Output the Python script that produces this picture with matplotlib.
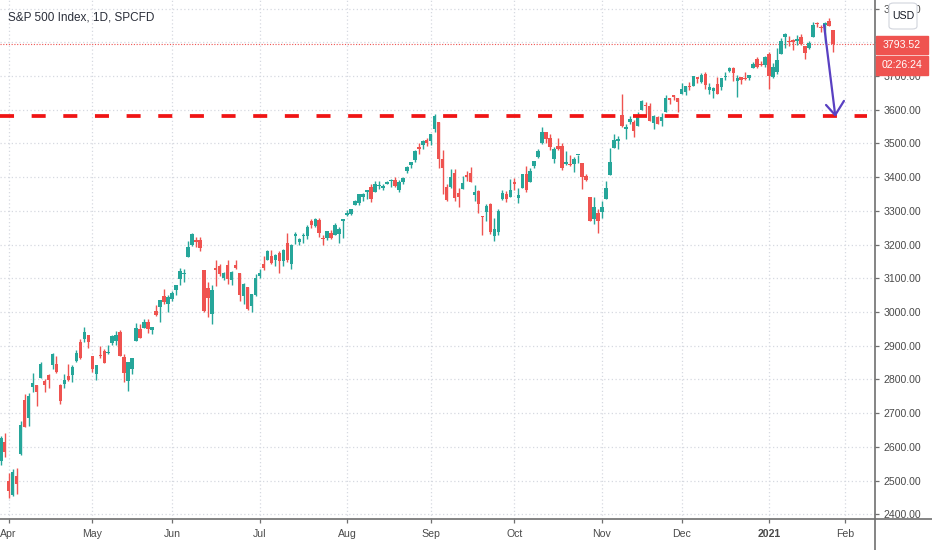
import matplotlib.pyplot as plt
import numpy as np
import pandas as pd
from matplotlib.lines import Line2D
from matplotlib.patches import Rectangle, FancyBboxPatch

plt.rcParams['font.family'] = ['Liberation Sans', 'DejaVu Sans']

GREEN = '#26a69a'
RED = '#ef5350'
AXIS = '#6f6f6f'
TEXT = '#4a4a4a'

# trading days shown (NYSE holidays removed)
holidays = ['2020-04-10', '2020-05-25', '2020-07-03', '2020-09-07',
            '2020-11-26', '2020-12-25', '2021-01-01', '2021-01-18']
days = pd.bdate_range('2020-03-30', '2021-01-27')
days = days[~days.isin(pd.to_datetime(holidays))]
future = pd.bdate_range('2021-01-28', '2021-02-05')

opens = [
    2558.98, 2614.69,
    2498.08, 2458.54, 2514.92, 2578.28, 2738.65, 2685.00, 2776.99, 2782.46, 2805.10, 2795.64, 2812.64,
    2842.43, 2845.62, 2784.81, 2787.89, 2810.42, 2812.64, 2854.65, 2909.96, 2918.46, 2930.91,
    2869.09, 2815.01, 2868.88, 2883.14, 2878.26, 2908.83, 2915.46, 2939.50, 2865.86, 2794.54, 2829.95,
    2913.86, 2948.59, 2953.63, 2969.95, 2948.05, 3004.08, 3015.65, 3046.61, 3025.17,
    3038.78, 3064.78, 3098.90, 3111.56, 3163.84, 3199.92, 3213.32, 3213.42, 3123.53, 3071.04, 2993.76,
    3131.00, 3136.13, 3101.64, 3140.29, 3094.42, 3138.70, 3114.40, 3046.60, 3073.20, 3018.59, 3050.20,
    3105.92, 3143.64, 3155.29, 3166.44, 3153.07, 3176.17, 3152.47, 3205.08, 3141.11, 3225.98, 3208.36,
    3224.21, 3224.29, 3268.52, 3254.86, 3271.64, 3218.58, 3219.84, 3234.27, 3227.22, 3231.76, 3270.45,
    3288.26, 3289.92, 3317.37, 3323.17, 3340.05, 3356.04, 3370.34, 3355.46, 3372.95, 3368.66, 3380.86,
    3387.04, 3392.51, 3360.48, 3386.01, 3418.09, 3435.95, 3449.97, 3485.14, 3494.69, 3509.73,
    3507.44, 3543.76, 3564.74, 3453.60, 3371.88, 3369.82, 3412.56, 3352.70, 3363.56, 3407.73, 3411.23,
    3346.86, 3357.38, 3285.57, 3295.75, 3320.11, 3226.14, 3236.66, 3333.90, 3350.92, 3341.21,
    3385.87, 3338.94, 3367.27, 3408.74, 3384.56, 3434.28, 3459.67, 3500.02, 3534.01, 3515.47, 3453.72,
    3493.50, 3493.66, 3439.38, 3439.91, 3438.50, 3464.90, 3441.42, 3403.15, 3342.48, 3277.17, 3293.59,
    3296.20, 3336.25, 3406.46, 3485.74, 3508.34, 3583.04, 3543.26, 3563.22, 3562.67, 3552.57, 3600.16,
    3610.31, 3612.09, 3559.41, 3579.31, 3566.82, 3594.52, 3635.50, 3638.55, 3634.18,
    3645.87, 3653.78, 3668.28, 3670.94, 3694.73, 3683.05, 3705.98, 3659.13, 3656.08, 3675.27, 3666.41,
    3696.25, 3713.65, 3722.39, 3684.28, 3698.08, 3693.42, 3694.03, 3723.03, 3750.01, 3736.19, 3733.27,
    3764.61, 3698.02, 3712.20, 3764.71, 3815.05, 3803.14, 3801.62, 3802.23, 3814.98, 3788.73, 3781.88,
    3816.22, 3857.46, 3844.24, 3851.68, 3862.96, 3836.83,
]
highs = [
    2631.80, 2641.39,
    2522.75, 2533.22, 2538.18, 2676.85, 2756.89, 2760.75, 2818.57, 2782.46, 2851.85, 2801.88, 2815.83,
    2879.22, 2868.98, 2785.54, 2815.10, 2844.90, 2842.71, 2887.72, 2921.15, 2954.86, 2930.91,
    2869.09, 2844.24, 2898.23, 2891.11, 2901.92, 2932.16, 2944.25, 2945.82, 2874.14, 2852.80, 2865.01,
    2968.09, 2964.21, 2980.29, 2978.50, 2956.76, 3021.72, 3036.25, 3068.67, 3049.17,
    3062.18, 3081.07, 3130.94, 3128.91, 3211.72, 3233.13, 3222.71, 3223.27, 3123.53, 3088.42, 3079.76,
    3153.45, 3141.16, 3120.00, 3155.53, 3120.92, 3154.90, 3115.01, 3086.25, 3073.73, 3053.89, 3111.51,
    3128.44, 3165.81, 3182.59, 3184.15, 3171.80, 3179.78, 3186.82, 3235.32, 3200.95, 3238.28, 3220.39,
    3233.52, 3258.61, 3277.29, 3279.32, 3279.99, 3227.26, 3241.43, 3243.72, 3264.74, 3250.92, 3272.17,
    3302.73, 3306.84, 3330.77, 3351.03, 3352.54, 3363.29, 3381.01, 3387.89, 3387.24, 3378.51, 3387.59,
    3395.06, 3399.54, 3390.80, 3399.96, 3432.09, 3444.21, 3481.07, 3501.38, 3509.23, 3514.77,
    3528.03, 3588.11, 3564.85, 3479.15, 3379.97, 3424.77, 3425.55, 3368.95, 3402.93, 3419.48, 3428.92,
    3375.17, 3362.27, 3285.57, 3320.31, 3323.35, 3278.70, 3306.88, 3360.74, 3357.92, 3393.56,
    3397.18, 3369.10, 3409.57, 3431.56, 3426.26, 3447.28, 3482.34, 3549.85, 3534.01, 3527.94, 3489.08,
    3515.76, 3502.42, 3476.93, 3464.86, 3460.53, 3466.46, 3441.42, 3409.51, 3342.48, 3341.05, 3304.93,
    3330.14, 3389.49, 3486.25, 3529.05, 3521.58, 3645.99, 3557.22, 3581.16, 3569.02, 3593.66, 3628.51,
    3623.11, 3619.09, 3585.22, 3581.23, 3589.81, 3642.31, 3635.50, 3644.31, 3634.18,
    3678.45, 3670.96, 3682.73, 3699.20, 3697.41, 3708.45, 3712.39, 3678.49, 3665.91, 3697.61, 3695.29,
    3711.27, 3725.12, 3726.70, 3702.90, 3698.26, 3711.24, 3703.82, 3740.51, 3756.12, 3744.63, 3760.20,
    3769.99, 3737.83, 3783.04, 3811.55, 3826.69, 3817.86, 3810.78, 3820.96, 3823.60, 3788.73, 3804.53,
    3859.75, 3861.45, 3852.31, 3859.23, 3870.90, 3836.83,
]
lows = [
    2545.28, 2571.15,
    2447.49, 2455.79, 2459.96, 2574.57, 2657.67, 2663.30, 2762.36, 2721.17, 2805.10, 2761.54, 2775.95,
    2830.88, 2820.43, 2727.10, 2775.95, 2794.26, 2791.76, 2852.89, 2860.71, 2912.16, 2892.47,
    2821.61, 2797.85, 2863.55, 2847.65, 2876.48, 2902.88, 2903.44, 2869.59, 2793.15, 2766.64, 2816.78,
    2913.86, 2922.35, 2953.63, 2938.57, 2933.59, 2988.17, 2969.75, 3023.40, 2998.61,
    3031.54, 3051.64, 3080.96, 3090.41, 3163.84, 3196.00, 3193.11, 3181.49, 2999.49, 2984.47, 2965.66,
    3076.06, 3108.03, 3093.51, 3083.11, 3079.39, 3127.12, 3032.13, 3024.01, 3004.63, 2999.74, 3047.83,
    3101.17, 3124.52, 3155.29, 3142.93, 3136.53, 3115.70, 3136.22, 3149.43, 3127.66, 3200.76, 3198.59,
    3205.65, 3215.16, 3247.77, 3253.10, 3222.66, 3200.05, 3214.25, 3216.17, 3227.22, 3204.13, 3220.26,
    3284.53, 3286.37, 3317.37, 3318.14, 3328.72, 3335.44, 3326.44, 3355.46, 3363.35, 3361.64, 3379.22,
    3370.15, 3369.66, 3354.69, 3379.31, 3413.13, 3425.84, 3444.15, 3468.35, 3484.32, 3493.25,
    3494.60, 3535.23, 3427.41, 3349.63, 3329.27, 3366.84, 3329.25, 3310.47, 3363.56, 3389.25, 3384.45,
    3328.82, 3292.40, 3229.10, 3270.95, 3232.57, 3209.45, 3228.44, 3332.91, 3327.54, 3340.47,
    3361.39, 3323.69, 3367.27, 3354.54, 3384.56, 3428.15, 3458.07, 3499.61, 3500.86, 3480.55, 3440.89,
    3480.45, 3419.93, 3435.65, 3433.06, 3415.34, 3440.45, 3364.86, 3388.71, 3268.89, 3259.82, 3233.94,
    3279.74, 3336.25, 3405.17, 3485.74, 3484.34, 3547.48, 3511.91, 3557.00, 3518.58, 3552.57, 3600.16,
    3588.68, 3567.33, 3543.84, 3556.85, 3552.77, 3594.52, 3617.76, 3629.33, 3594.39,
    3645.87, 3644.84, 3657.17, 3670.94, 3678.88, 3678.83, 3660.54, 3645.18, 3633.40, 3645.84, 3659.62,
    3688.57, 3710.87, 3685.84, 3636.48, 3676.16, 3689.28, 3689.32, 3723.03, 3723.31, 3730.21, 3726.88,
    3662.71, 3695.07, 3705.34, 3764.71, 3783.60, 3789.02, 3776.51, 3791.50, 3792.86, 3749.62, 3780.37,
    3816.22, 3845.05, 3830.41, 3797.16, 3847.78, 3770.00,
]
closes = [
    2626.65, 2584.59,
    2470.50, 2526.90, 2488.65, 2663.68, 2659.41, 2749.98, 2789.82, 2761.63, 2846.06, 2783.36, 2799.55,
    2874.56, 2823.16, 2736.56, 2799.31, 2797.80, 2836.74, 2878.48, 2863.39, 2939.51, 2912.43,
    2830.71, 2842.74, 2868.44, 2848.42, 2881.19, 2929.80, 2930.32, 2870.12, 2820.00, 2852.50, 2863.70,
    2953.91, 2922.94, 2971.61, 2948.51, 2955.45, 2991.77, 3036.13, 3029.73, 3044.31,
    3055.73, 3080.82, 3122.87, 3112.35, 3193.93, 3232.39, 3207.18, 3190.14, 3002.10, 3041.31, 3066.59,
    3124.74, 3113.49, 3115.34, 3097.74, 3117.86, 3131.29, 3050.33, 3083.76, 3009.05, 3053.24, 3100.29,
    3115.86, 3130.01, 3179.72, 3145.32, 3169.94, 3152.05, 3185.04, 3155.22, 3197.52, 3226.56, 3215.57,
    3224.73, 3251.84, 3257.30, 3276.02, 3235.66, 3215.63, 3239.41, 3218.44, 3258.44, 3246.22, 3271.12,
    3294.61, 3306.51, 3327.77, 3349.16, 3351.28, 3360.47, 3333.69, 3380.35, 3373.43, 3372.85, 3381.99,
    3389.78, 3374.85, 3385.51, 3397.16, 3431.28, 3443.62, 3478.73, 3484.55, 3508.01, 3500.31,
    3526.65, 3580.84, 3455.06, 3426.96, 3331.84, 3398.96, 3339.19, 3340.97, 3383.54, 3401.20, 3385.49,
    3357.01, 3319.47, 3281.06, 3315.57, 3236.92, 3246.59, 3298.46, 3351.60, 3335.47, 3363.00,
    3380.80, 3348.42, 3408.60, 3360.97, 3419.44, 3446.83, 3477.14, 3534.22, 3511.93, 3488.67, 3483.34,
    3483.81, 3426.92, 3443.12, 3435.56, 3453.49, 3465.39, 3400.97, 3390.68, 3271.03, 3310.11, 3269.96,
    3310.24, 3369.16, 3443.44, 3510.45, 3509.44, 3550.50, 3545.53, 3572.66, 3537.01, 3585.15, 3626.91,
    3609.53, 3567.79, 3581.87, 3557.54, 3577.59, 3635.41, 3629.65, 3638.35, 3621.63,
    3662.45, 3669.01, 3666.72, 3699.12, 3691.96, 3702.25, 3672.82, 3668.10, 3663.46, 3647.49, 3694.62,
    3701.17, 3722.48, 3709.41, 3694.92, 3687.26, 3690.01, 3703.06, 3735.36, 3727.04, 3732.04, 3756.07,
    3700.65, 3726.86, 3748.14, 3803.79, 3824.68, 3799.61, 3801.19, 3809.84, 3795.54, 3768.25, 3798.91,
    3851.85, 3853.07, 3841.47, 3855.36, 3849.62, 3793.52,
]

support = 3582          # drawn resistance / support level
last_price = 3793.52
countdown = '02:26:24'
yticks = list(range(2400, 4000, 100))

o, h, l, c = (np.array(v) for v in (opens, highs, lows, closes))
assert len(o) == len(h) == len(l) == len(c) == len(days)
x = np.arange(len(days))

fig = plt.figure(figsize=(9.32, 5.5), dpi=100)
ax = fig.add_axes([0, 31 / 550, 875 / 932, 519 / 550])

col = np.where(c >= o, GREEN, RED)
ax.vlines(x, l, h, colors=col, lw=1.0, zorder=3)
body = np.maximum(np.abs(c - o), 4)
ax.bar(x, body, bottom=np.minimum(o, c), width=0.88, color=col, lw=0, zorder=4)

ax.set_xlim(-0.19, 219.6)
ax.set_ylim(2386.1, 3925.3)

# month ticks at the first bar of each month (future bars continue the index)
all_days = days.append(future)
starts = [i for i in range(1, len(all_days))
          if all_days[i].month != all_days[i - 1].month]
labels = [all_days[i].strftime('%b') if all_days[i].month != 1
          else str(all_days[i].year) for i in starts]
ax.set_xticks(starts)
ax.set_xticklabels(labels)
for t in ax.get_xticklabels():
    if t.get_text() == '2021':
        t.set_fontweight('bold')
        t.set_color('#2a2e39')

ax.yaxis.tick_right()
ax.set_yticks(yticks)
ax.set_yticklabels([f'{v:.2f}' for v in yticks])
ax.tick_params(axis='both', length=3, width=0.9, color=AXIS,
               labelcolor=TEXT, labelsize=7.6)
ax.tick_params(axis='x', pad=4)
ax.tick_params(axis='y', pad=3)
for s in ax.spines.values():
    s.set_visible(False)
ax.grid(True, color='#d6d9e0', linestyle=(0, (1, 2)), lw=0.9, zorder=0)

# last price line and drawn support line
ax.axhline(last_price, color=RED, lw=0.8, ls=(0, (1, 1.5)), zorder=2)
ax.plot([-0.19, 217.6], [support, support], color='#f01414', lw=2.7,
        ls=(0, (3.74, 4.7)), zorder=5)

# arrow drawing
arrow_col = '#5940c2'
tip = (209.6, 3584)
ax.plot([206.8, tip[0]], [3851, tip[1]], color=arrow_col, lw=1.6, zorder=6,
        solid_capstyle='round', clip_on=False)
ax.plot([207.3, tip[0], 211.8], [3614, tip[1], 3626], color=arrow_col, lw=1.6,
        zorder=6, solid_capstyle='round', solid_joinstyle='round', clip_on=False)

# axis frame lines reaching the figure edges
fig.add_artist(Line2D([875 / 932, 875 / 932], [0, 1], transform=fig.transFigure,
                      color=AXIS, lw=1.2))
fig.add_artist(Line2D([0, 1], [31 / 550, 31 / 550], transform=fig.transFigure,
                      color=AXIS, lw=1.2))

# price / countdown labels
fig.add_artist(Rectangle((876 / 932, 1 - 54 / 550), 52 / 932, 18 / 550,
                         transform=fig.transFigure, color=RED, zorder=5))
fig.add_artist(Rectangle((876 / 932, 1 - 75 / 550), 52 / 932, 19 / 550,
                         transform=fig.transFigure, color=RED, zorder=5))
fig.text(902 / 932, 1 - 45 / 550, f'{last_price:.2f}', color='white',
         fontsize=7.6, ha='center', va='center', zorder=6)
fig.text(902 / 932, 1 - 65.5 / 550, countdown, color='white',
         fontsize=7.6, ha='center', va='center', zorder=6)

fig.add_artist(FancyBboxPatch((889 / 932, 1 - 29 / 550), 28 / 932, 26 / 550,
                              boxstyle='round,pad=0,rounding_size=0.005',
                              transform=fig.transFigure, facecolor='white',
                              edgecolor='#d1d4dc', lw=0.8, zorder=5))
fig.text(903 / 932, 1 - 16 / 550, 'USD', color='#131722', fontsize=7.6,
         ha='center', va='center', zorder=6)

fig.text(8 / 932, 1 - 18 / 550, 'S&P 500 Index, 1D, SPCFD', color='#2a2e39',
         fontsize=8.5, ha='left', va='center')

fig.savefig('out.png', dpi=100)
